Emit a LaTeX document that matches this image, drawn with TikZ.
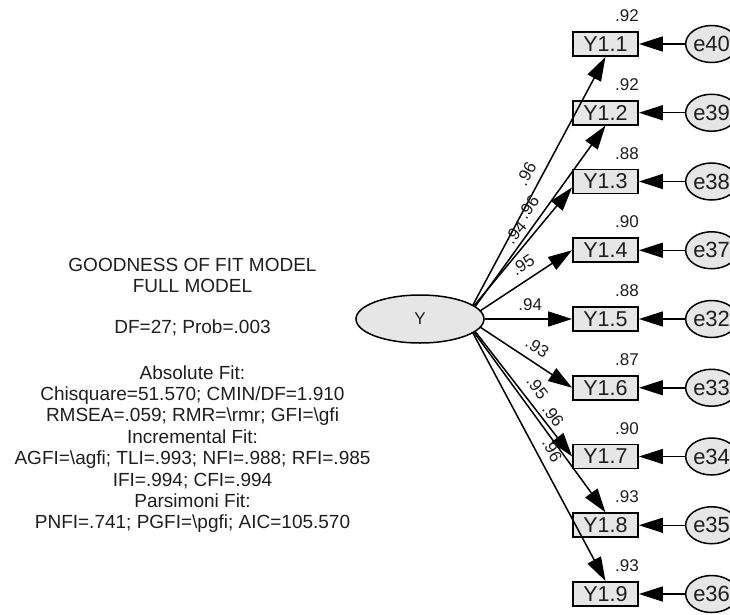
\documentclass[tikz,border=0pt]{standalone}
\usepackage{fontspec}
\setmainfont{Liberation Sans}
\usetikzlibrary{arrows.meta,positioning,shapes.geometric}
\definecolor{semfill}{RGB}{230,230,230}
\definecolor{semtext}{RGB}{30,30,30}
\tikzset{
  patharr/.style={-{Triangle[length=24pt,width=15pt]}, line width=1.5pt},
  latent/.style={ellipse, draw, line width=1.5pt, fill=semfill, minimum width=128pt,
                 minimum height=48pt, font=\fontsize{17}{18}\selectfont, text=semtext},
  obsbox/.style={rectangle, draw, line width=1.8pt, fill=semfill, minimum width=65pt,
                 minimum height=24pt, inner sep=0pt, font=\fontsize{21.5}{22}\selectfont, text=semtext},
  errell/.style={ellipse, draw, line width=1.5pt, fill=semfill, minimum width=44pt,
                 minimum height=37pt, inner sep=0pt, font=\fontsize{22}{22}\selectfont, text=semtext},
  coef/.style={font=\fontsize{17}{18}\selectfont, text=semtext, inner sep=2pt},
}

\begin{document}
\begin{tikzpicture}[x=1pt, y=-1pt]
  \useasboundingbox (0,0) rectangle (730,615);
  % fit summary
  \node[align=center, text=semtext, font=\fontsize{19}{21.4}\selectfont] (fit) at (192.5,395.5)
    {GOODNESS OF FIT MODEL\\ FULL MODEL\\[19.5pt]
     DF=27; Prob=.003\\[24pt]
     Absolute Fit:\\ Chisquare=51.570; CMIN/DF=1.910\\
     RMSEA=.059; RMR=\textbackslash rmr; GFI=\textbackslash gfi\\
     Incremental Fit:\\ AGFI=\textbackslash agfi; TLI=.993; NFI=.988; RFI=.985\\
     IFI=.994; CFI=.994\\ Parsimoni Fit:\\
     PNFI=.741; PGFI=\textbackslash pgfi; AIC=105.570};
  \node[latent] (Y) at (420,319) {Y};
  % indicators and errors
  \foreach \i/\e/\v in {1/40/.92, 2/39/.92, 3/38/.88, 4/37/.90, 5/32/.88,
                        6/33/.87, 7/34/.90, 8/35/.93, 9/36/.93}{
    \node[obsbox] (y\i) at (605.5,{319+(\i-5)*68.75}) {Y1.\i};
    \node[errell, right=46pt of y\i] (e\e) {e\e};
    \node[coef, inner sep=0pt, above left=9pt and 0pt of y\i.north east] (r\i) {\v};
    \draw[patharr] (e\e) -- (y\i);
  }
  % loadings
  \foreach \i/\l/\a/\t/\p in {1/.96/15/south/0.50, 2/.96/13/south/0.50, 3/.94/14/190/0.54,
                              4/.95/8/west/0.55, 5/.94/0/west/0.52, 6/.93/-8/west/0.53,
                              7/.95/-13/west/0.52, 8/.96/-14/north/0.51, 9/.96/-15/north/0.50}{
    \draw[patharr] (Y.\a) -- (y\i.\t) node[coef, pos=\p, sloped, above=6pt] {\l};
  }
\end{tikzpicture}
\end{document}
